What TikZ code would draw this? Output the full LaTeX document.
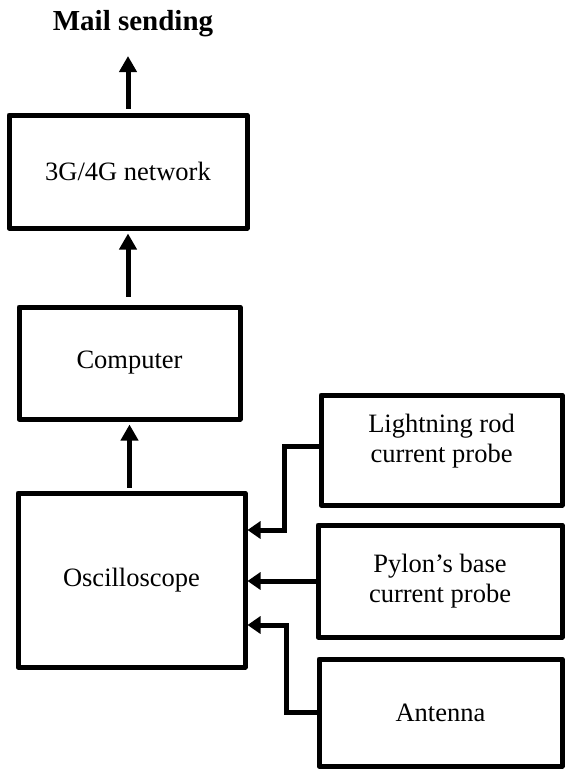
\documentclass[tikz,border=0pt]{standalone}
\usepackage{fontspec}
\setmainfont{Liberation Serif}
\usetikzlibrary{arrows.meta}
\begin{document}
\begin{tikzpicture}[x=1pt,y=-1pt,
  box/.style={draw, line width=5pt, line join=round, inner sep=0pt, align=center,
    font=\fontsize{26.5}{30}\selectfont},
  arr/.style={line width=5pt, -{Triangle[length=16pt,width=17pt]}},
  harr/.style={line width=5pt, line join=miter, -{Triangle[length=13pt,width=17pt]}}]
\useasboundingbox (0,0) rectangle (566,769);
% boxes
\node[box, minimum width=238pt, minimum height=113pt] (net) at (128,171.5) {3G/4G network};
\node[box, minimum width=221pt, minimum height=112pt] (comp) at (129.5,363) {Computer};
\node[box, minimum width=227pt, minimum height=174pt] (osc) at (131.5,580) {Oscilloscope};
\node[box, minimum width=241pt, minimum height=110pt] (light) at (441.5,450)
  {\raisebox{9pt}[\height][\depth]{\begin{tabular}{@{}c@{}}Lightning rod\\current probe\end{tabular}}};
\node[box, minimum width=244pt, minimum height=112pt] (pylon) at (440,581) {Pylon’s base\\current probe};
\node[box, minimum width=243pt, minimum height=107pt] (ant) at (440.5,712.5) {Antenna};
% title
\node[font=\bfseries\fontsize{29}{32}\selectfont, anchor=base, inner sep=0pt] (mailtxt) at (133,30) {Mail sending};
\coordinate (mailtip) at (128,56);
\coordinate (lj) at (284,0);
\coordinate (aj) at (286,0);
% vertical arrows
\draw[arr, shorten <=4pt] (net.north) -- (net.north |- mailtip);
\draw[arr, shorten <=8pt, shorten >=3pt] (net.south |- comp.north) -- (net.south);
\draw[arr, shorten <=3pt, shorten >=3pt] (comp.south |- osc.north) -- (comp.south);
% inputs to oscilloscope
\draw[harr] ([yshift=4pt]light.west) -- ([yshift=4pt]light.west -| lj) |- ([yshift=50pt]osc.east);
\draw[harr] (pylon.west) -- (pylon.west -| osc.east);
\draw[harr] (ant.west) -- (ant.west -| aj) |- ([yshift=-45pt]osc.east);
\end{tikzpicture}
\end{document}
